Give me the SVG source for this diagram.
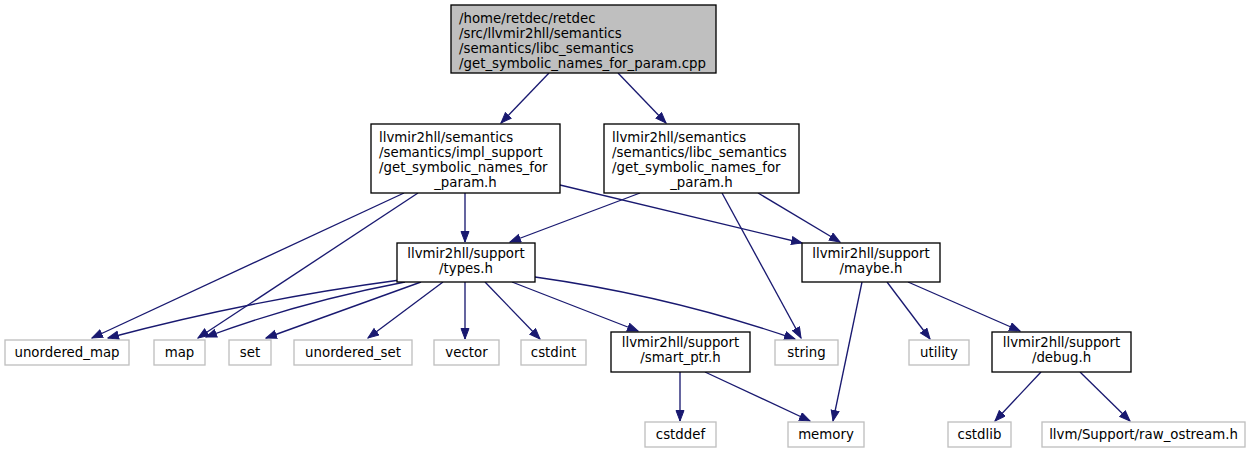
<svg xmlns="http://www.w3.org/2000/svg" width="1251" height="453" viewBox="0 0 1251 453">
<style>
text{font-family:"DejaVu Sans",sans-serif;font-size:13.33px;fill:#000}
.m text{text-anchor:middle}
.b rect{fill:#fff;stroke:#000;stroke-width:1.33}
.g rect{fill:#fff;stroke:#bfbfbf;stroke-width:1.33}
.r rect{fill:#bfbfbf;stroke:#000;stroke-width:1.33}
#edges path{fill:none;stroke:#191970;stroke-width:1.33;marker-end:url(#ah)}
</style>
<defs>
<marker id="ah" markerUnits="userSpaceOnUse" markerWidth="12" markerHeight="10" refX="11" refY="4.5" orient="auto" viewBox="0 0 12 10">
<path d="M0.5,0.5 L11,4.5 L0.5,8.5 z" fill="#191970" stroke="#191970"/>
</marker>
</defs>
<rect width="1251" height="453" fill="#fff"/>
<g id="edges">
<path d="M549,73 L501,123"/>
<path d="M618,73 L666,123"/>
<path d="M465,193 L465,242"/>
<path d="M404,193 L92,338"/>
<path d="M418,193 L198,338"/>
<path d="M560,185 L802,243"/>
<path d="M640,193 L510,242"/>
<path d="M722,193 L801,338"/>
<path d="M758,193 L840,242"/>
<path d="M400,280 Q250,300 108,338"/>
<path d="M405,282 Q300,302 206,337"/>
<path d="M421,282 L266,338"/>
<path d="M443,282 L368,338"/>
<path d="M465,282 L465,339"/>
<path d="M485,282 L540,339"/>
<path d="M512,282 L638,331"/>
<path d="M535,277 Q670,296 795,339"/>
<path d="M862,282 L833,421"/>
<path d="M887,282 L930,339"/>
<path d="M908,282 L1020,331"/>
<path d="M680,372 L680,421"/>
<path d="M705,372 L810,421"/>
<path d="M1041,372 L995,421"/>
<path d="M1080,372 L1130,421"/>
</g>
<g id="n_top" class="r">
<rect x="451" y="5" width="265" height="68"/>
<text x="459" y="23">/home/retdec/retdec</text>
<text x="459" y="38">/src/llvmir2hll/semantics</text>
<text x="459" y="53">/semantics/libc_semantics</text>
<text x="459" y="68">/get_symbolic_names_for_param.cpp</text>
</g>
<g id="n_impl" class="b">
<rect x="371" y="124" width="189" height="69"/>
<text x="379" y="142">llvmir2hll/semantics</text>
<text x="379" y="157">/semantics/impl_support</text>
<text x="379" y="172">/get_symbolic_names_for</text>
<text x="465.5" y="187" text-anchor="middle">_param.h</text>
</g>
<g id="n_libc" class="b">
<rect x="604" y="124" width="195" height="69"/>
<text x="612" y="142">llvmir2hll/semantics</text>
<text x="612" y="157">/semantics/libc_semantics</text>
<text x="612" y="172">/get_symbolic_names_for</text>
<text x="701.5" y="187" text-anchor="middle">_param.h</text>
</g>
<g id="n_types" class="b m">
<rect x="397" y="243" width="138" height="39"/>
<text x="466" y="258">llvmir2hll/support</text>
<text x="466" y="273">/types.h</text>
</g>
<g id="n_maybe" class="b m">
<rect x="802" y="243" width="138" height="39"/>
<text x="871" y="258">llvmir2hll/support</text>
<text x="871" y="273">/maybe.h</text>
</g>
<g id="n_smart" class="b m">
<rect x="611" y="332" width="139" height="40"/>
<text x="680.5" y="347">llvmir2hll/support</text>
<text x="680.5" y="362">/smart_ptr.h</text>
</g>
<g id="n_debug" class="b m">
<rect x="992" y="332" width="139" height="40"/>
<text x="1061.5" y="347">llvmir2hll/support</text>
<text x="1061.5" y="362">/debug.h</text>
</g>
<g id="n_umap" class="g m"><rect x="5" y="340" width="124" height="25"/><text x="67" y="357">unordered_map</text></g>
<g id="n_map" class="g m"><rect x="154" y="340" width="51" height="25"/><text x="179.5" y="357">map</text></g>
<g id="n_set" class="g m"><rect x="229" y="340" width="42" height="25"/><text x="250" y="357">set</text></g>
<g id="n_uset" class="g m"><rect x="294" y="340" width="118" height="25"/><text x="353" y="357">unordered_set</text></g>
<g id="n_vector" class="g m"><rect x="434" y="340" width="65" height="25"/><text x="466.5" y="357">vector</text></g>
<g id="n_cstdint" class="g m"><rect x="521" y="340" width="65" height="25"/><text x="553.5" y="357">cstdint</text></g>
<g id="n_string" class="g m"><rect x="775" y="340" width="63" height="25"/><text x="806.5" y="357">string</text></g>
<g id="n_utility" class="g m"><rect x="909" y="340" width="60" height="25"/><text x="939" y="357">utility</text></g>
<g id="n_cstddef" class="g m"><rect x="645" y="422" width="71" height="25"/><text x="680.5" y="439">cstddef</text></g>
<g id="n_memory" class="g m"><rect x="788" y="422" width="76" height="25"/><text x="826" y="439">memory</text></g>
<g id="n_cstdlib" class="g m"><rect x="948" y="422" width="63" height="25"/><text x="979.5" y="439">cstdlib</text></g>
<g id="n_raw" class="g m"><rect x="1042" y="422" width="203" height="25"/><text x="1143.5" y="439">llvm/Support/raw_ostream.h</text></g>
</svg>
